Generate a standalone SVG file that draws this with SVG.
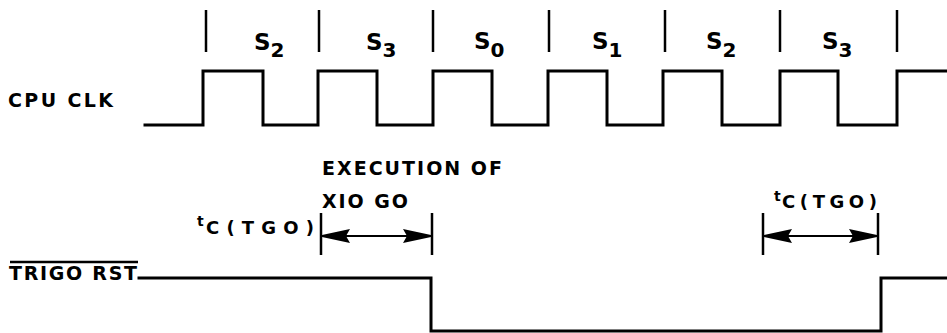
<svg xmlns="http://www.w3.org/2000/svg" width="947" height="333" viewBox="0 0 947 333">
<style>
.wave{fill:none;stroke:#000;stroke-width:3;stroke-linejoin:miter;stroke-linecap:square}
.tick{stroke:#000;stroke-width:2.5}
.bar{stroke:#000;stroke-width:2.5}
.dim{stroke:#000;stroke-width:2;fill:none}
.lbl{font-family:"DejaVu Sans","Liberation Sans",sans-serif;font-weight:bold;fill:#000}
.s{font-size:23px}
.sub{font-size:20px}
.big{font-size:19px}
.tsm{font-size:14px}
.tsub{font-size:18px}
</style>
<defs>
<marker id="ah" viewBox="0 0 28 14" refX="28" refY="7" markerWidth="28" markerHeight="14" markerUnits="userSpaceOnUse" orient="auto-start-reverse">
<path d="M0,0 L28,6 L28,8 L0,14 L4,7 z" fill="#000"/>
</marker>
</defs>
<rect width="947" height="333" fill="#fff"/>
<g id="state-ticks">
<line class="tick" x1="206" y1="10" x2="206" y2="52"/>
<line class="tick" x1="319" y1="10" x2="319" y2="52"/>
<line class="tick" x1="433" y1="10" x2="433" y2="52"/>
<line class="tick" x1="549" y1="10" x2="549" y2="52"/>
<line class="tick" x1="665" y1="10" x2="665" y2="52"/>
<line class="tick" x1="780" y1="10" x2="780" y2="52"/>
<line class="tick" x1="897" y1="10" x2="897" y2="52"/>
</g>
<g id="state-labels" class="lbl">
<text x="254" y="50" class="s">S<tspan class="sub" dy="7">2</tspan></text>
<text x="366" y="50" class="s">S<tspan class="sub" dy="7">3</tspan></text>
<text x="474" y="49" class="s">S<tspan class="sub" dy="8">0</tspan></text>
<text x="592" y="49" class="s">S<tspan class="sub" dy="8">1</tspan></text>
<text x="706" y="49" class="s">S<tspan class="sub" dy="8">2</tspan></text>
<text x="822" y="49" class="s">S<tspan class="sub" dy="8">3</tspan></text>
</g>
<g id="cpu-clk">
<text class="lbl big" x="8" y="107" textLength="105" lengthAdjust="spacing">CPU CLK</text>
<path class="wave" d="M145,125 H203 V71 H263 V125 H318 V71 H377 V125 H433 V71 H492 V125 H548 V71 H607 V125 H663 V71 H722 V125 H780 V71 H838 V125 H897 V71 H947"/>
</g>
<g id="execution-label" class="lbl big">
<text x="322" y="175" textLength="180" lengthAdjust="spacing">EXECUTION OF</text>
<text x="322" y="208" textLength="86" lengthAdjust="spacing">XIO GO</text>
</g>
<g id="tc-left-label" class="lbl">
<text x="197" y="226" class="tsm">t</text>
<text x="206" y="234" class="tsub" textLength="108" lengthAdjust="spacing">C(TGO)</text>
</g>
<g id="tc-right-label" class="lbl">
<text x="774" y="201" class="tsm">t</text>
<text x="782" y="208" class="tsub" textLength="95" lengthAdjust="spacing">C(TGO)</text>
</g>
<g id="trigo-rst">
<line x1="10" y1="262" x2="138" y2="262" stroke="#000" stroke-width="2.5"/>
<text class="lbl big" x="9" y="280" textLength="128" lengthAdjust="spacing">TRIGO RST</text>
<path class="wave" d="M139,278 H431 V331 H881 V278 H947"/>
</g>
<g id="connectors">
<line class="bar" x1="321" y1="213" x2="321" y2="255"/>
<line class="bar" x1="432" y1="213" x2="432" y2="255"/>
<line class="dim" x1="322" y1="236" x2="431" y2="236" marker-start="url(#ah)" marker-end="url(#ah)"/>
<line class="bar" x1="763" y1="213" x2="763" y2="255"/>
<line class="bar" x1="878" y1="213" x2="878" y2="255"/>
<line class="dim" x1="764" y1="236" x2="877" y2="236" marker-start="url(#ah)" marker-end="url(#ah)"/>
</g>
</svg>
